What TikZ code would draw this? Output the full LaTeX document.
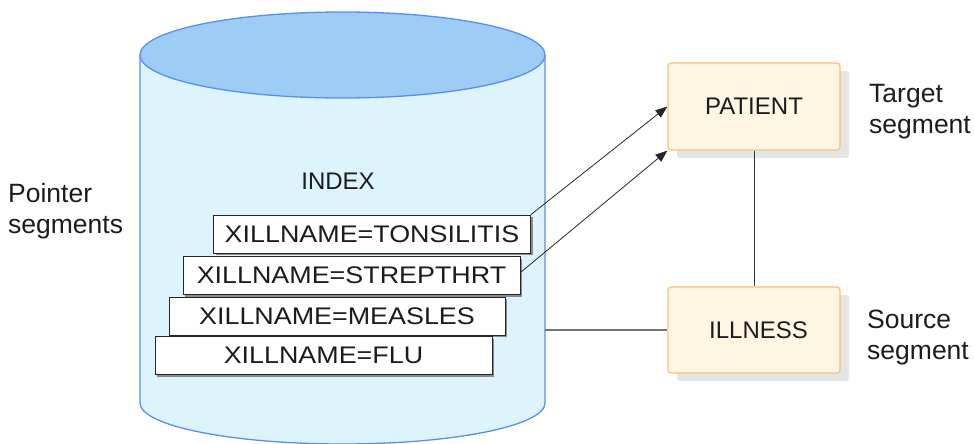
\documentclass[tikz,border=0pt]{standalone}
\usepackage{fontspec}
\setmainfont{Liberation Sans}
\newfontfamily\widefont[FakeStretch=1.12]{Liberation Sans}
\usetikzlibrary{shadows,arrows.meta}
\definecolor{cylside}{HTML}{DDF4FD}
\definecolor{cyltop}{HTML}{9DCDF5}
\definecolor{cylline}{HTML}{5A8DF2}
\definecolor{segfill}{HTML}{FFF5E3}
\definecolor{segline}{HTML}{F5C46E}
\definecolor{txt}{HTML}{1C1C1C}
\tikzset{
  keybox/.style={draw=black!85, fill=white, line width=0.9pt, inner sep=0pt,
    minimum height=38pt, text=txt, font=\widefont\fontsize{24}{28}\selectfont,
    drop shadow={shadow xshift=2pt, shadow yshift=-2pt, fill=black!45, opacity=1}},
  segbox/.style={draw=segline, fill=segfill, line width=1.2pt, rounded corners=3pt,
    minimum width=172pt, inner sep=0pt, text=txt, font=\fontsize{24}{28}\selectfont,
    drop shadow={shadow xshift=9pt, shadow yshift=-8pt, fill=black!10, opacity=1}},
  sidelabel/.style={align=left, anchor=west, text=txt, inner sep=0pt,
    font=\fontsize{26.5}{31}\selectfont},
  ptr/.style={draw=black!85, line width=0.8pt, -{Triangle[length=12pt,width=9pt]}},
  link/.style={draw=black!80, line width=1pt}
}
\begin{document}
\begin{tikzpicture}[x=1pt,y=-1pt]
\useasboundingbox (0,0) rectangle (975,444);
% cylinder
\filldraw[fill=cylside, draw=cylline, line width=1.3pt]
  (140,55) -- (140,403) arc[start angle=180, end angle=360, x radius=202.5pt, y radius=41pt] -- (545,55);
\filldraw[fill=cyltop, draw=cylline, line width=1.3pt] (342.5,55) ellipse [x radius=202.5pt, y radius=43pt];
\coordinate (cylR) at (545,330);
\node[text=txt, font=\fontsize{24}{28}\selectfont] (index) at (338,181) {INDEX};
% key boxes
\node[keybox, minimum width=317pt] (ton) at (372,234) {XILLNAME=TONSILITIS};
\node[keybox, minimum width=337pt] (str) at (351.5,275.5) {XILLNAME=STREPTHRT};
\node[keybox, minimum width=336pt] (mea) at (337,316) {XILLNAME=MEASLES};
\node[keybox, minimum width=337pt] (flu) at (323.5,355.5) {XILLNAME=FLU};
% segments
\node[segbox, minimum height=87pt] (pat) at (754,106.5) {PATIENT};
\node[segbox, minimum height=86pt] (ill) at (754,330) {\hspace{9pt}ILLNESS};
% labels
\node[sidelabel] (plab) at (8,211) {Pointer\\segments};
\node[sidelabel] (tlab) at (869,112) {Target\\segment};
\node[sidelabel] (slab) at (867,337) {Source\\segment};
% connectors
\draw[ptr] (ton.north east) -- (pat.west);
\draw[ptr] ([yshift=3pt]str.east) -- (pat.south west);
\draw[link] (pat.south) -- (ill.north);
\draw[draw=black!55, line width=1.5pt] (cylR) -- (ill.west);
\end{tikzpicture}
\end{document}
